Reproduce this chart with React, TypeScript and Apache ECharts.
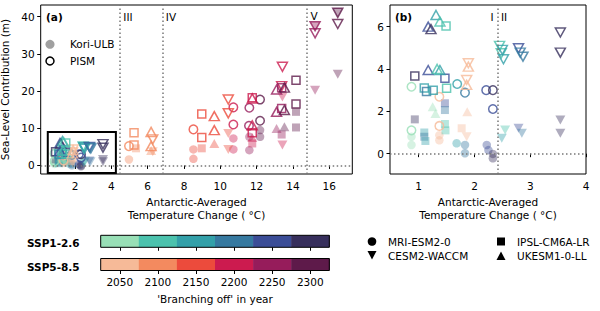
import React, { useEffect, useRef } from "react";
import * as echarts from "echarts";

// ---- data ----
const YEARS = [2050, 2100, 2150, 2200, 2250, 2300];
const SSP126_COLORS = ["#98dfb6", "#4bc2ad", "#33a0a9", "#3679a0", "#3b4d97", "#372f5c"];
const SSP585_COLORS = ["#f6ba98", "#f38a5f", "#ec4b3c", "#cc1b4f", "#961c5b", "#5e1a4a"];
const BIN_EDGES = [2025, 2075, 2125, 2175, 2225, 2275, 2325];

const LEFT_X_TICKS = [2, 4, 6, 8, 10, 12, 14, 16];
const LEFT_Y_TICKS = [0, 10, 20, 30, 40];
const RIGHT_X_TICKS = [1, 2, 3, 4];
const RIGHT_Y_TICKS = [0, 2, 4, 6];
const YEAR_TICKS = [2050, 2100, 2150, 2200, 2250, 2300];

// regime boundaries (temperature)
const LEFT_BOUNDS = [4.44, 6.83, 14.76];
const RIGHT_BOUNDS = [2.42];

// [temperature, sea level, scenario, branching year]
const pismMRI = [
  [0.87, 3.16, 126, 2050], [0.87, 1.1, 126, 2050], [1.69, 3.29, 126, 2150], [1.83, 2.88, 126, 2200],
  [2.21, 3.0, 126, 2250], [2.33, 3.0, 126, 2300], [2.33, 2.11, 126, 2250],
  [1.37, 2.69, 585, 2050], [1.37, 1.31, 585, 2050], [4.97, 5.19, 585, 2100], [8.52, 9.68, 585, 2150],
  [10.72, 15.6, 585, 2200], [10.72, 11.0, 585, 2200], [11.6, 15.5, 585, 2250], [11.58, 10.65, 585, 2250],
  [12.19, 17.7, 585, 2300], [12.19, 12.0, 585, 2300],
];
const pismCESM = [
  [2.45, 5.09, 126, 2100], [2.48, 4.74, 126, 2100], [2.5, 4.9, 126, 2150], [2.52, 4.46, 126, 2150],
  [2.79, 4.98, 126, 2250], [2.82, 4.77, 126, 2200], [2.87, 4.58, 126, 2200], [3.54, 5.72, 126, 2300], [3.54, 4.77, 126, 2300],
  [1.89, 4.27, 585, 2050], [1.86, 3.48, 585, 2050], [6.28, 7.0, 585, 2100], [10.44, 17.7, 585, 2150], [10.44, 14.0, 585, 2150],
  [13.42, 26.5, 585, 2200], [13.38, 21.3, 585, 2200], [15.22, 37.4, 585, 2250], [15.22, 35.5, 585, 2250],
  [16.47, 41.0, 585, 2300], [16.47, 38.0, 585, 2300],
];
const pismIPSL = [
  [1.49, 6.03, 126, 2100], [0.93, 3.67, 126, 2300], [1.47, 3.56, 126, 2250], [1.1, 3.1, 126, 2150],
  [1.14, 2.93, 126, 2200], [1.26, 3.0, 126, 2150], [1.5, 3.09, 126, 2100],
  [5.25, 8.76, 585, 2100], [5.25, 5.46, 585, 2100], [8.98, 13.8, 585, 2150], [8.98, 7.53, 585, 2150],
  [11.76, 18.2, 585, 2200], [11.76, 8.77, 585, 2200], [13.38, 15.3, 585, 2250], [13.38, 20.9, 585, 2250],
  [14.17, 22.9, 585, 2300], [14.17, 16.5, 585, 2300],
];
const pismUKESM = [
  [1.17, 6.0, 126, 2250], [1.22, 5.88, 126, 2300], [1.31, 6.55, 126, 2150], [1.38, 6.24, 126, 2100],
  [1.17, 3.95, 126, 2250], [1.38, 3.95, 126, 2150], [1.33, 4.0, 126, 2100],
  [1.89, 4.11, 585, 2050], [1.86, 3.25, 585, 2050], [6.19, 9.0, 585, 2100], [6.19, 5.19, 585, 2100],
  [9.67, 13.25, 585, 2150], [9.67, 9.49, 585, 2150], [11.76, 10.8, 585, 2200], [11.76, 18.0, 585, 2200],
  [13.1, 20.4, 585, 2250], [13.1, 14.4, 585, 2250], [13.53, 20.9, 585, 2300], [13.53, 14.9, 585, 2300],
];
const koriMRI = [
  [0.87, 0.8, 126, 2050], [0.87, 0.41, 126, 2050], [1.68, 0.49, 126, 2150], [1.83, 0.41, 126, 2200],
  [1.83, 0.02, 126, 2200], [2.22, 0.41, 126, 2250], [2.25, 0.17, 126, 2250], [2.33, -0.01, 126, 2300], [2.33, -0.22, 126, 2300],
  [1.37, 0.87, 585, 2050], [1.37, 0.63, 585, 2050], [4.97, 1.6, 585, 2100], [8.52, 4.3, 585, 2150], [8.52, 1.77, 585, 2150],
  [10.72, 7.26, 585, 2200], [10.72, 4.3, 585, 2200], [11.6, 7.7, 585, 2250], [11.6, 4.1, 585, 2250],
  [12.19, 9.5, 585, 2300], [12.19, 7.7, 585, 2300],
];
const koriCESM = [
  [2.55, 1.12, 126, 2100], [2.49, 0.73, 126, 2150], [2.79, 1.2, 126, 2250], [2.85, 0.96, 126, 2200],
  [3.54, 1.59, 126, 2300], [3.54, 0.96, 126, 2300],
  [1.86, 0.8, 585, 2050], [6.28, 3.66, 585, 2100], [10.44, 8.6, 585, 2150], [10.44, 4.3, 585, 2150],
  [13.42, 18.4, 585, 2200], [13.42, 5.5, 585, 2200], [15.22, 37.4, 585, 2250], [15.22, 20.2, 585, 2250],
  [16.47, 41.0, 585, 2300], [16.47, 24.5, 585, 2300],
];
const koriIPSL = [
  [0.93, 1.62, 126, 2300], [1.1, 1.0, 126, 2150], [1.1, 0.8, 126, 2200], [1.12, 0.6, 126, 2150],
  [1.47, 2.38, 126, 2250], [1.47, 2.06, 126, 2200], [1.47, 1.4, 126, 2100], [1.48, 1.1, 126, 2100],
  [1.77, 1.2, 585, 2050], [5.36, 4.6, 585, 2100], [8.98, 4.6, 585, 2150], [11.76, 5.9, 585, 2200],
  [13.38, 8.3, 585, 2250], [14.17, 14.4, 585, 2300], [14.17, 10.2, 585, 2300],
];
const koriUKESM = [
  [1.25, 2.22, 126, 2050], [1.3, 1.9, 126, 2050],
  [1.87, 1.98, 585, 2050], [6.19, 4.0, 585, 2100], [9.67, 5.91, 585, 2150], [11.76, 7.5, 585, 2200],
  [13.1, 9.9, 585, 2250], [13.53, 10.4, 585, 2300],
];

const MODELS = [
  { name: "MRI-ESM2-0", symbol: "circle", rotate: 0, size: 8.5, kori: koriMRI, pism: pismMRI },
  { name: "CESM2-WACCM", symbol: "triangle", rotate: 180, size: [10, 9], kori: koriCESM, pism: pismCESM },
  { name: "IPSL-CM6A-LR", symbol: "rect", rotate: 0, size: 8, kori: koriIPSL, pism: pismIPSL },
  { name: "UKESM1-0-LL", symbol: "triangle", rotate: 0, size: [10, 9], kori: koriUKESM, pism: pismUKESM },
];

const FONT = "DejaVu Sans";

function colorFor(scen: number, year: number) {
  const i = YEARS.indexOf(year);
  return scen === 126 ? SSP126_COLORS[i] : SSP585_COLORS[i];
}
function rgba(hex: string, a: number) {
  const n = parseInt(hex.slice(1), 16);
  return `rgba(${n >> 16},${(n >> 8) & 255},${n & 255},${a})`;
}

function buildOption() {
  const series: any[] = [];
  const dotted = { color: "#777", width: 1.5, type: [1.5, 2.5] as any };
  for (let p = 0; p < 2; p++) {
    MODELS.forEach((m, mi) => {
      const s: any = {
        type: "scatter",
        name: m.name + " Kori-ULB",
        xAxisIndex: p,
        yAxisIndex: p,
        symbol: m.symbol,
        symbolRotate: m.rotate,
        symbolSize: m.size,
        z: 2,
        clip: true,
        data: m.kori.map((d) => ({
          value: [d[0], d[1]],
          itemStyle: { color: rgba(colorFor(d[2], d[3]), 0.5), borderWidth: 0 },
        })),
      };
      if (mi === 0) {
        s.markLine = {
          silent: true,
          symbol: "none",
          label: { show: false },
          lineStyle: dotted,
          data: [...(p === 0 ? LEFT_BOUNDS : RIGHT_BOUNDS).map((b) => ({ xAxis: b })), { yAxis: 0 }],
        };
        if (p === 0) {
          s.markArea = {
            silent: true,
            itemStyle: { color: "rgba(0,0,0,0)", borderColor: "#000", borderWidth: 2 },
            data: [[{ coord: [0.5, 9] }, { coord: [4.25, -2] }]],
          };
        }
      }
      series.push(s);
    });
    MODELS.forEach((m) => {
      series.push({
        type: "scatter",
        name: m.name + " PISM",
        xAxisIndex: p,
        yAxisIndex: p,
        symbol: m.symbol,
        symbolRotate: m.rotate,
        symbolSize: m.size,
        z: 3,
        clip: true,
        data: m.pism.map((d) => ({
          value: [d[0], d[1]],
          itemStyle: { color: "rgba(0,0,0,0)", borderColor: colorFor(d[2], d[3]), borderWidth: 1.5 },
        })),
      });
    });
  }

  const barRender = (params: any, api: any) => {
    const s = api.coord([api.value(0), 0]);
    const e = api.coord([api.value(1), 1]);
    return {
      type: "rect",
      shape: { x: s[0], y: e[1], width: e[0] - s[0] + 0.5, height: s[1] - e[1] },
      style: { fill: api.visual("color") },
    };
  };
  const outlineRender = (params: any, api: any) => {
    const s = api.coord([api.value(0), 0]);
    const e = api.coord([api.value(1), 1]);
    return {
      type: "rect",
      shape: { x: s[0], y: e[1], width: e[0] - s[0], height: s[1] - e[1] },
      style: { fill: "none", stroke: "#000", lineWidth: 1 },
    };
  };
  [SSP126_COLORS, SSP585_COLORS].forEach((cols, i) => {
    series.push({
      type: "custom",
      xAxisIndex: 2 + i,
      yAxisIndex: 2 + i,
      renderItem: barRender,
      encode: { x: [0, 1] },
      data: cols.map((c, k) => ({ value: [BIN_EDGES[k], BIN_EDGES[k + 1]], itemStyle: { color: c } })),
      z: 2,
    });
    series.push({
      type: "custom",
      xAxisIndex: 2 + i,
      yAxisIndex: 2 + i,
      renderItem: outlineRender,
      encode: { x: [0, 1] },
      data: [[BIN_EDGES[0], BIN_EDGES[BIN_EDGES.length - 1]]],
      z: 4,
    });
  });

  const tickLabel = { color: "#000", fontSize: 10.5, fontFamily: FONT };
  const xAxisBase = (grid: number, min: number, max: number, ticks: number[], name: string) => ({
    type: "value",
    gridIndex: grid,
    min,
    max,
    axisLine: { show: false },
    splitLine: { show: false },
    axisTick: { show: true, length: 3.5, customValues: ticks, lineStyle: { color: "#000", width: 1 } },
    axisLabel: { ...tickLabel, margin: 6, customValues: ticks, formatter: (v: number) => String(v) },
    name,
    nameLocation: "middle",
    nameGap: 19,
    nameTextStyle: { color: "#000", fontSize: 10.5, fontFamily: FONT, lineHeight: 13 },
  });
  const yAxisBase = (grid: number, min: number, max: number, ticks: number[], name: string) => ({
    type: "value",
    gridIndex: grid,
    min,
    max,
    axisLine: { show: false },
    splitLine: { show: false },
    axisTick: { show: true, length: 3.5, customValues: ticks, lineStyle: { color: "#000", width: 1 } },
    axisLabel: { ...tickLabel, margin: 6, customValues: ticks, formatter: (v: number) => String(v) },
    name,
    nameLocation: "middle",
    nameGap: 22,
    nameTextStyle: { color: "#000", fontSize: 10.5, fontFamily: FONT },
  });

  const xLabel = "Antarctic-Averaged\nTemperature Change ( °C)";

  const legendText = (x: number, y: number, text: string, extra: any = {}) => ({
    type: "text",
    x,
    y,
    style: { text, fill: "#000", font: `10.5px '${FONT}'`, textVerticalAlign: "middle", ...extra },
  });

  const gridBase = { outerBoundsMode: "none", containLabel: false };

  return {
    animation: false,
    textStyle: { fontFamily: FONT },
    grid: [
      { ...gridBase, left: 40.7, top: 5, width: 311.6, height: 169, show: true, borderColor: "#000", borderWidth: 1, backgroundColor: "rgba(0,0,0,0)" },
      { ...gridBase, left: 390, top: 5, width: 196, height: 169, show: true, borderColor: "#000", borderWidth: 1, backgroundColor: "rgba(0,0,0,0)" },
      { ...gridBase, left: 100.7, top: 235.3, width: 228.6, height: 12 },
      { ...gridBase, left: 100.7, top: 258.5, width: 228.6, height: 12 },
    ],
    xAxis: [
      xAxisBase(0, 0.11, 17.27, LEFT_X_TICKS, xLabel),
      xAxisBase(1, 0.485, 4.0, RIGHT_X_TICKS, xLabel),
      {
        type: "value", gridIndex: 2, min: 2025, max: 2325,
        axisLine: { show: false }, splitLine: { show: false },
        axisTick: { show: true, length: 3.5, customValues: YEAR_TICKS, lineStyle: { color: "#000" } },
        axisLabel: { show: false, customValues: YEAR_TICKS },
      },
      {
        type: "value", gridIndex: 3, min: 2025, max: 2325,
        axisLine: { show: false }, splitLine: { show: false },
        axisTick: { show: true, length: 3.5, customValues: YEAR_TICKS, lineStyle: { color: "#000" } },
        axisLabel: { ...tickLabel, margin: 6, customValues: YEAR_TICKS, formatter: (v: number) => String(v) },
        name: "'Branching off' in year",
        nameLocation: "middle",
        nameGap: 23,
        nameTextStyle: { color: "#000", fontSize: 10.5, fontFamily: FONT },
      },
    ],
    yAxis: [
      yAxisBase(0, -2.3, 43.1, LEFT_Y_TICKS, "Sea-Level Contribution (m)"),
      yAxisBase(1, -0.96, 7.02, RIGHT_Y_TICKS, ""),
      { type: "value", gridIndex: 2, min: 0, max: 1, show: false },
      { type: "value", gridIndex: 3, min: 0, max: 1, show: false },
    ],
    series,
    graphic: [
      legendText(46, 17, "(a)", { font: `bold 10.5px '${FONT}'` }),
      legendText(395, 17, "(b)", { font: `bold 10.5px '${FONT}'` }),
      legendText(128, 17, "III", { textAlign: "center" }),
      legendText(171, 17, "IV", { textAlign: "center" }),
      legendText(314, 16, "V", { textAlign: "center" }),
      legendText(492, 17, "I", { textAlign: "center" }),
      legendText(504, 17, "II", { textAlign: "center" }),
      { type: "circle", shape: { cx: 50, cy: 44.3, r: 4.5 }, style: { fill: "rgba(128,128,128,0.75)" } },
      legendText(70, 44.3, "Kori-ULB"),
      { type: "circle", shape: { cx: 50, cy: 61, r: 4 }, style: { fill: "none", stroke: "#000", lineWidth: 1.5 } },
      legendText(70, 61, "PISM"),
      legendText(27, 242.5, "SSP1-2.6", { font: `bold 10.5px '${FONT}'` }),
      legendText(27, 266.5, "SSP5-8.5", { font: `bold 10.5px '${FONT}'` }),
      { type: "circle", shape: { cx: 372, cy: 241.5, r: 4.3 }, style: { fill: "#000" } },
      legendText(388, 241.5, "MRI-ESM2-0"),
      { type: "polygon", shape: { points: [[367.5, 251], [376.5, 251], [372, 259.5]] }, style: { fill: "#000" } },
      legendText(388, 255.5, "CESM2-WACCM"),
      { type: "rect", shape: { x: 497, y: 237.5, width: 8, height: 8 }, style: { fill: "#000" } },
      legendText(517, 241.5, "IPSL-CM6A-LR"),
      { type: "polygon", shape: { points: [[496.5, 260], [505.5, 260], [501, 251.5]] }, style: { fill: "#000" } },
      legendText(517, 255.5, "UKESM1-0-LL"),
    ],
  };
}

export default function App() {
  const ref = useRef<HTMLDivElement>(null);
  useEffect(() => {
    document.body.style.margin = "0";
    const chart = echarts.init(ref.current!, undefined, { renderer: "svg" });
    chart.setOption(buildOption() as any);
    return () => chart.dispose();
  }, []);
  return <div ref={ref} style={{ width: 600, height: 311 }} />;
}
